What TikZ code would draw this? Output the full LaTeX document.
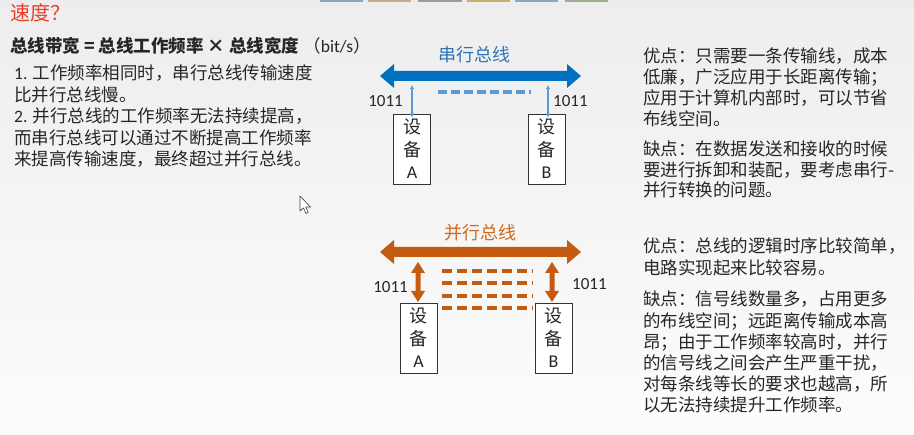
\documentclass[tikz,border=0pt]{standalone}
\usepackage{fontspec}
\setmainfont{Noto Sans CJK SC}
\newfontfamily\lat{Carlito}
\usetikzlibrary{arrows.meta}
\definecolor{busblue}{HTML}{0070C0}
\definecolor{lblue}{HTML}{5B9BD5}
\definecolor{tblue}{HTML}{2E75B6}
\definecolor{busorange}{HTML}{C55A11}
\definecolor{torange}{HTML}{D2691E}
\definecolor{titlered}{HTML}{E8402A}
\definecolor{txt}{HTML}{262626}
\definecolor{tabA}{HTML}{8EA3C2}
\definecolor{tabB}{HTML}{C9A98A}
\definecolor{tabC}{HTML}{9A9A9A}
\definecolor{tabD}{HTML}{C8AE6E}
\definecolor{tabE}{HTML}{9AAE94}
\begin{document}
\begin{tikzpicture}[x=1pt,y=-1pt,
  txtline/.style={anchor=base west, inner sep=0pt, font=\fontsize{17.5}{21}\selectfont, text=txt},
  num/.style={inner sep=0pt, font=\lat\fontsize{17}{20}\selectfont, text=txt},
  devbox/.style={draw=black!80, line width=0.8pt, fill=white, minimum width=37pt, minimum height=70pt, inner sep=0pt, align=center, font=\fontsize{18}{22.5}\selectfont, text=txt},
  thinarrow/.style={draw=lblue, line width=1.2pt, {Latex[length=4pt,width=4.5pt]}-{Latex[length=4pt,width=4.5pt]}},
  serialdash/.style={draw=lblue, line width=4pt, dash pattern=on 9pt off 4pt},
  paradash/.style={draw=busorange, line width=4pt, dash pattern=on 10pt off 5pt}
]
\useasboundingbox (0,0) rectangle (914,435);
\shade[top color=black!7, bottom color=black!1] (0,0) rectangle (914,435);

% top tab slivers
\fill[tabA] (320,0) rectangle (363,2.2);
\fill[tabB] (368,0) rectangle (411,2.2);
\fill[tabC] (418,0) rectangle (462,2.2);
\fill[tabD] (467,0) rectangle (510,2.2);
\fill[tabA] (515,0) rectangle (558,2.2);
\fill[tabE] (565,0) rectangle (608,2.2);

% title
\node[anchor=base west, inner sep=0pt, font=\fontsize{20}{24}\selectfont, text=titlered] (title) at (10,21) {速度？};
\node[anchor=base west, inner sep=0pt, font=\fontsize{17.5}{21}\selectfont, text=txt] (formula) at (10,53) {\bfseries 总线带宽 = 总线工作频率 × 总线宽度 \mdseries （{\lat bit/s}）};

% left text
\node[txtline] (l1) at (14,80) {{\lat 1.} 工作频率相同时，串行总线传输速度};
\node[txtline] (l2) at (14,101.5) {比并行总线慢。};
\node[txtline] (l3) at (14,123) {{\lat 2.} 并行总线的工作频率无法持续提高，};
\node[txtline] (l4) at (14,144.5) {而串行总线可以通过不断提高工作频率};
\node[txtline] (l5) at (14,166) {来提高传输速度，最终超过并行总线。};

% serial bus
\node[inner sep=0pt, font=\fontsize{18}{21}\selectfont, text=tblue] (serlabel) at (474,55) {串行总线};
\fill[busblue] (380,76) -- (394,64) -- (394,71) -- (567,71) -- (567,64) -- (581,76) -- (567,88) -- (567,81) -- (394,81) -- (394,88) -- cycle;
\node[devbox] (sA) at (412,149) {设\\备\\{\lat A}};
\node[devbox] (sB) at (546.5,149) {设\\备\\{\lat B}};
\coordinate (sAtop) at (412,85);
\coordinate (sBtop) at (548,85);
\draw[thinarrow] (sAtop) -- ([yshift=-4pt]sA.north);
\draw[thinarrow] (sBtop) -- ([yshift=-4pt]sA.north -| sBtop);
\coordinate (sd1) at (438,92);
\coordinate (sd2) at (531,92);
\draw[serialdash] (sd1) -- (sd2);
\node[num, anchor=base east] (s1011a) at (403,106.5) {1011};
\node[num, anchor=base west] (s1011b) at (553,106.5) {1011};

% parallel bus
\node[inner sep=0pt, font=\fontsize{18}{21}\selectfont, text=torange] (parlabel) at (480,233) {并行总线};
\fill[busorange] (380,252) -- (394,240) -- (394,247) -- (567,247) -- (567,240) -- (581,252) -- (567,264) -- (567,257) -- (394,257) -- (394,264) -- cycle;
\node[devbox] (pA) at (418.5,338) {设\\备\\{\lat A}};
\node[devbox] (pB) at (553.5,338) {设\\备\\{\lat B}};
\fill[busorange] (418,262) -- (425,273) -- (420.5,273) -- (420.5,291) -- (425,291) -- (418,302) -- (411,291) -- (415.5,291) -- (415.5,273) -- (411,273) -- cycle;
\fill[busorange] (552,262) -- (559,273) -- (554.5,273) -- (554.5,291) -- (559,291) -- (552,302) -- (545,291) -- (549.5,291) -- (549.5,273) -- (545,273) -- cycle;
\foreach \yy/\nm in {271/pd1,283.5/pd2,296/pd3,308.5/pd4}{
  \coordinate (\nm a) at (442,\yy);
  \coordinate (\nm b) at (533,\yy);
  \draw[paradash] (\nm a) -- (\nm b);
}
\node[num, anchor=base east] (p1011a) at (408,293) {1011};
\node[num, anchor=base west] (p1011b) at (572,290) {1011};

% right upper text
\node[txtline] (r1) at (643,63) {优点：只需要一条传输线，成本};
\node[txtline] (r2) at (643,84) {低廉，广泛应用于长距离传输；};
\node[txtline] (r3) at (643,105) {应用于计算机内部时，可以节省};
\node[txtline] (r4) at (643,126) {布线空间。};
\node[txtline] (r5) at (643,156) {缺点：在数据发送和接收的时候};
\node[txtline] (r6) at (643,177) {要进行拆卸和装配，要考虑串行-};
\node[txtline] (r7) at (643,197) {并行转换的问题。};

% right lower text
\node[txtline] (q1) at (643,253) {优点：总线的逻辑时序比较简单，};
\node[txtline] (q2) at (643,274.5) {电路实现起来比较容易。};
\node[txtline] (q3) at (643,306) {缺点：信号线数量多，占用更多};
\node[txtline] (q4) at (643,328) {的布线空间；远距离传输成本高};
\node[txtline] (q5) at (643,349) {昂；由于工作频率较高时，并行};
\node[txtline] (q6) at (643,370) {的信号线之间会产生严重干扰，};
\node[txtline] (q7) at (643,391) {对每条线等长的要求也越高，所};
\node[txtline] (q8) at (643,412) {以无法持续提升工作频率。};

% mouse cursor
\draw[black!75, fill=white, line width=0.6pt, line join=round] (300,196) -- (300,211) -- (303.5,207.8) -- (306,213.5) -- (308.2,212.5) -- (305.8,207) -- (310.5,207) -- cycle;
\end{tikzpicture}
\end{document}
